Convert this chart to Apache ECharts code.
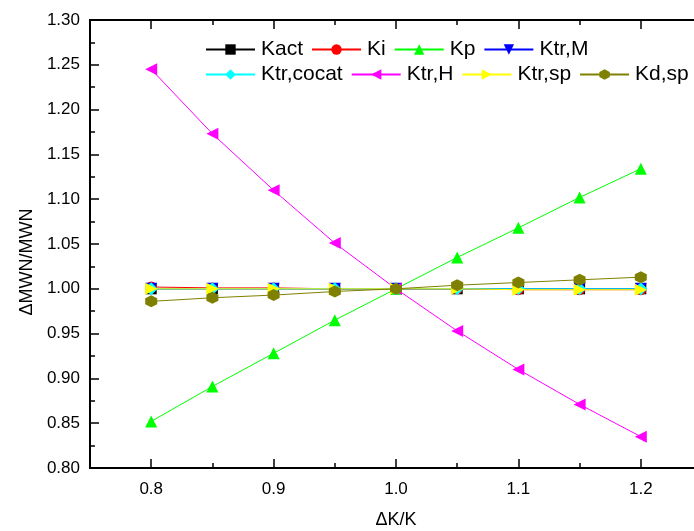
<!DOCTYPE html>
<html>
<head>
<meta charset="utf-8">
<script src="https://cdn.jsdelivr.net/npm/echarts@6/dist/echarts.min.js"></script>
<style>
html,body{margin:0;padding:0;background:#fff;}
#c{width:694px;height:531px;}
</style>
</head>
<body>
<div id="c"></div>
<script>
const xValues = [0.8, 0.85, 0.9, 0.95, 1.0, 1.05, 1.1, 1.15, 1.2];
const xTickLabels = [0.8, 0.9, 1.0, 1.1, 1.2];
const seriesNames = ['Kact', 'Ki', 'Kp', 'Ktr,M', 'Ktr,cocat', 'Ktr,H', 'Ktr,sp', 'Kd,sp'];
const Kact = [1.0, 1.0, 1.0, 1.0, 1.0, 1.0, 1.0, 1.0, 1.0];
const Ki = [1.002, 1.001, 1.001, 1.0, 1.0, 1.0, 0.999, 0.999, 0.999];
const Kp = [0.852, 0.891, 0.928, 0.965, 1.0, 1.035, 1.068, 1.102, 1.134];
const KtrM = [1.0, 1.0, 1.0, 1.0, 1.0, 1.0, 1.0, 1.0, 1.0];
const KtrCocat = [1.0, 1.0, 1.0, 1.0, 1.0, 1.0, 1.0, 1.0, 1.0];
const KtrH = [1.245, 1.173, 1.110, 1.051, 1.0, 0.953, 0.910, 0.871, 0.835];
const KtrSp = [1.0, 1.0, 1.0, 1.0, 1.0, 1.0, 0.999, 0.999, 0.999];
const KdSp = [0.986, 0.990, 0.993, 0.997, 1.0, 1.004, 1.007, 1.010, 1.013];

const valuesList = [Kact, Ki, Kp, KtrM, KtrCocat, KtrH, KtrSp, KdSp];
const colors = ['#000000', '#ff0000', '#00ff00', '#0000ff', '#00ffff', '#ff00ff', '#ffff00', '#808000'];
const symbols = [
  'rect', 'circle', 'triangle',
  'path://M0,0 L10,0 L5,9 Z',
  'diamond',
  'path://M0,5 L9,0 L9,10 Z',
  'path://M0,0 L9,5 L0,10 Z',
  'path://M5,0 L9.33,2.5 L9.33,7.5 L5,10 L0.67,7.5 L0.67,2.5 Z'
];
const sizes = [11, 11, 12, 12, 13, 12, 12, 12];

const FONT = 'Arial, "Liberation Sans", sans-serif';

const series = seriesNames.map((name, i) => ({
  name: name,
  type: 'line',
  xAxisIndex: 0,
  yAxisIndex: 0,
  data: xValues.map((x, j) => [x, valuesList[i][j]]),
  symbol: symbols[i],
  symbolSize: sizes[i],
  showSymbol: true,
  itemStyle: { color: colors[i] },
  lineStyle: { color: colors[i], width: 1 },
  emphasis: { disabled: true },
  animation: false,
  z: 2 + i
}));

const legendCommon = {
  orient: 'horizontal',
  left: 200,
  width: 600,
  itemWidth: 49,
  itemHeight: 13,
  itemGap: 8,
  textStyle: { fontFamily: FONT, fontSize: 21, color: '#000', padding: [0, 0, 0, 1] },
  selectedMode: false
};

const lineC = '#000';
const xBase = {
  type: 'value', min: 0.75, max: 1.25,
  axisLine: { show: true, onZero: false, lineStyle: { color: lineC, width: 2 } },
  splitLine: { show: false },
  axisPointer: { show: false }
};

const option = {
  backgroundColor: '#ffffff',
  animation: false,
  grid: { left: 90, right: -8, top: 20, bottom: 63, containLabel: false, outerBoundsMode: 'none' },
  legend: [
    Object.assign({}, legendCommon, { top: 34, data: seriesNames.slice(0, 4) }),
    Object.assign({}, legendCommon, { top: 59, data: seriesNames.slice(4, 8) })
  ],
  xAxis: [
    Object.assign({}, xBase, {
      position: 'bottom', interval: 0.1,
      axisTick: { show: true, inside: true, length: 5, lineStyle: { color: lineC, width: 1.5 } },
      axisLabel: { show: false },
      name: 'ΔK/K', nameLocation: 'middle', nameGap: 43,
      nameTextStyle: { fontFamily: FONT, fontSize: 18, color: '#000' }
    }),
    Object.assign({}, xBase, {
      position: 'bottom',
      axisTick: { show: true, inside: true, length: 9, customValues: xTickLabels, lineStyle: { color: lineC, width: 1.5 } },
      axisLabel: { show: true, customValues: xTickLabels, margin: 13, fontFamily: FONT, fontSize: 17, color: '#000',
        formatter: v => Number(v).toFixed(1) }
    }),
    Object.assign({}, xBase, {
      position: 'top', interval: 0.1,
      axisTick: { show: true, inside: true, length: 5, lineStyle: { color: lineC, width: 1.5 } },
      axisLabel: { show: false }
    }),
    Object.assign({}, xBase, {
      position: 'top',
      axisTick: { show: true, inside: true, length: 9, customValues: xTickLabels, lineStyle: { color: lineC, width: 1.5 } },
      axisLabel: { show: false }
    })
  ],
  yAxis: [
    {
      type: 'value', min: 0.8, max: 1.3, interval: 0.05, position: 'left',
      axisLine: { show: true, onZero: false, lineStyle: { color: lineC, width: 2 } },
      axisTick: { show: true, inside: true, length: 9, lineStyle: { color: lineC, width: 1.5 } },
      minorTick: { show: true, splitNumber: 2, length: 5, lineStyle: { color: lineC, width: 1.5 } },
      splitLine: { show: false },
      minorSplitLine: { show: false },
      axisLabel: { margin: 10, fontFamily: FONT, fontSize: 17, color: '#000', formatter: v => Number(v).toFixed(2) },
      name: 'ΔMWN/MWN', nameLocation: 'middle', nameGap: 54,
      nameTextStyle: { fontFamily: FONT, fontSize: 18, color: '#000', padding: [0, 36, 0, 0] }
    }
  ],
  series: series
};

const chart = echarts.init(document.getElementById('c'), null, { renderer: 'canvas' });
chart.setOption(option);
</script>
</body>
</html>
